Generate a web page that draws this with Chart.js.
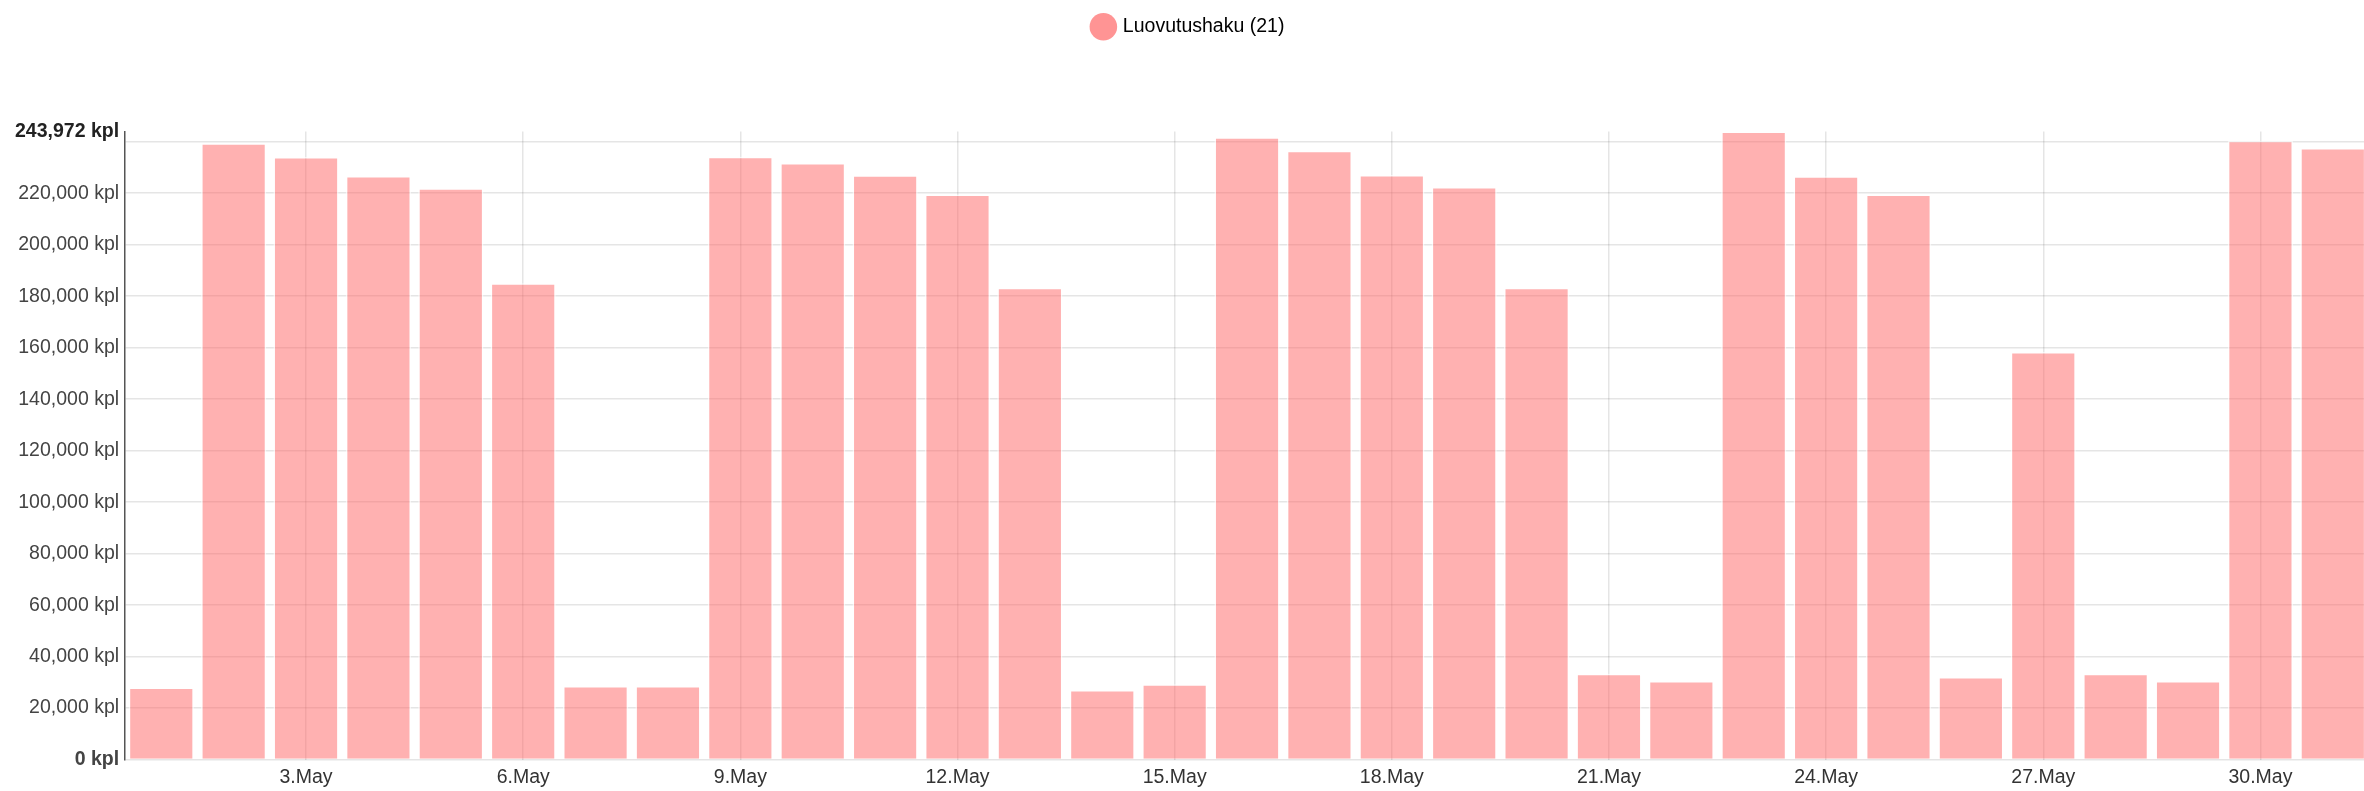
<!DOCTYPE html>
<html lang="fi">
<head>
    <meta charset="UTF-8">
    <title>Luovutushaku</title>
    <script src="https://cdn.jsdelivr.net/npm/chart.js"></script>
    <style>
        body {
            margin: 0;
            background: #ffffff;
            overflow: hidden;
        }
        .chart-box {
            width: 2369px;
            height: 795px;
        }
    </style>
</head>
<body>
    <div class="chart-box">
        <canvas id="hakuChart"></canvas>
    </div>

    <script>
        // Päivät ja määrät
        const days = [];
        for (let d = 1; d <= 31; d++) days.push(d + '.May');

        const amounts = [
            28000, 239400, 234100, 226700, 221900, 185000, 28600,
            28600, 234200, 231700, 227000, 219500, 183300, 27000,
            29300, 241700, 236500, 227100, 222400, 183300, 33300,
            30500, 243972, 226600, 219500, 32100, 158300, 33300,
            30500, 240400, 237600
        ];

        const yTicks = [0, 20000, 40000, 60000, 80000, 100000, 120000,
            140000, 160000, 180000, 200000, 220000, 240000];

        const seriesName = 'Luovutushaku (21)';
        const yMax = Math.max(...amounts);
        const fontFamily = 'Arial, "Liberation Sans", sans-serif';

        // legendan alle lisää tilaa
        const legendMargin = {
            id: 'legendMargin',
            beforeInit(chart) {
                const fit = chart.legend.fit;
                chart.legend.fit = function () {
                    fit.bind(chart.legend)();
                    this.height += 85;
                };
            }
        };

        new Chart(document.getElementById('hakuChart'), {
            type: 'bar',
            data: {
                labels: days,
                datasets: [{
                    label: seriesName,
                    data: amounts,
                    backgroundColor: 'rgba(255, 99, 99, 0.5)',
                    borderColor: 'rgba(255, 255, 255, 0.6)',
                    borderWidth: 1.5,
                    barPercentage: 0.9,
                    categoryPercentage: 1.0
                }]
            },
            options: {
                responsive: true,
                maintainAspectRatio: false,
                animation: false,
                layout: { padding: { top: 7, left: 9, right: 0, bottom: 0 } },
                plugins: {
                    tooltip: { enabled: false },
                    legend: {
                        position: 'top',
                        labels: {
                            usePointStyle: true,
                            pointStyle: 'circle',
                            boxWidth: 20,
                            boxHeight: 20,
                            padding: 10,
                            color: '#333',
                            font: { family: fontFamily, size: 19.5 },
                            generateLabels: (chart) => [{
                                text: seriesName,
                                fillStyle: '#ff9494',
                                strokeStyle: '#ff9494',
                                lineWidth: 0,
                                pointStyle: 'circle',
                                datasetIndex: 0
                            }]
                        }
                    }
                },
                scales: {
                    x: {
                        offset: true,
                        grid: {
                            offset: false,
                            drawTicks: false,
                            color: 'rgba(0, 0, 0, 0.1)',
                            lineWidth: 1.5
                        },
                        border: { display: false },
                        ticks: {
                            autoSkip: false,
                            maxRotation: 0,
                            padding: 6,
                            color: '#333',
                            font: { family: fontFamily, size: 19.5 },
                            callback: function (val, i) {
                                return (i + 1) % 3 === 0 ? this.getLabelForValue(val) : null;
                            }
                        }
                    },
                    y: {
                        min: 0,
                        max: yMax,
                        afterBuildTicks: (axis) => {
                            axis.ticks = yTicks.map(v => ({ value: v })).concat([{ value: yMax }]);
                        },
                        grid: {
                            drawTicks: false,
                            lineWidth: 1.5,
                            color: (ctx) => ctx.tick && ctx.tick.value === yMax ? 'rgba(0,0,0,0)' : 'rgba(0, 0, 0, 0.1)'
                        },
                        border: { display: true, color: '#555', width: 1.5 },
                        ticks: {
                            padding: 6,
                            color: (ctx) => ctx.tick && ctx.tick.value === yMax ? '#222' : '#444',
                            font: (ctx) => ({
                                family: fontFamily,
                                size: 19.5,
                                weight: ctx.tick && (ctx.tick.value === yMax || ctx.tick.value === 0) ? 'bold' : 'normal'
                            }),
                            callback: (value) => {
                                if (value === 240000) return '';
                                return value.toLocaleString('en-US') + ' kpl';
                            }
                        }
                    }
                }
            },
            plugins: [legendMargin]
        });
    </script>
</body>
</html>
